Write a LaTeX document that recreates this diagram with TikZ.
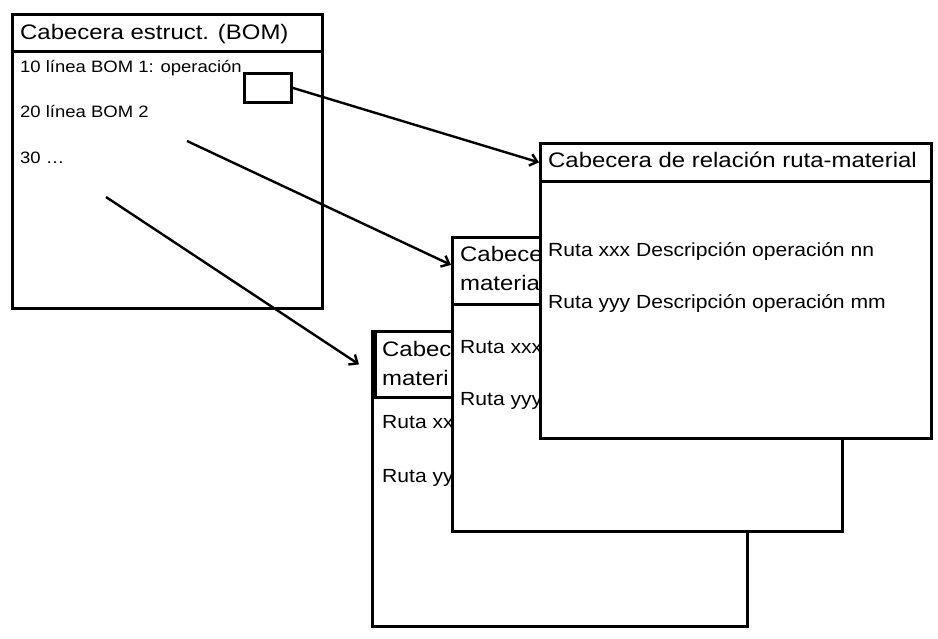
\documentclass[tikz,border=0pt]{standalone}
\usepackage{fontspec}
\setmainfont{Liberation Sans}
\newfontfamily\titlefont[FakeStretch=1.14]{Liberation Sans}
\newfontfamily\bodyfont[FakeStretch=1.12]{Liberation Sans}
\newfontfamily\bodyfontb[FakeStretch=1.11]{Liberation Sans}
\usetikzlibrary{arrows.meta}
\tikzset{
  box/.style={draw, fill=white, line width=2.8pt, inner sep=0pt, anchor=north west},
  ttl/.style={inner sep=0pt, anchor=base west, font=\titlefont\fontsize{21}{25}\selectfont},
  bomtxt/.style={inner sep=0pt, anchor=base west, font=\bodyfont\fontsize{16.5}{20}\selectfont},
  rtxt/.style={inner sep=0pt, anchor=base west, font=\bodyfontb\fontsize{19}{23}\selectfont},
  arr/.style={-{Straight Barb[length=7pt,width=12pt]}, line width=2.4pt}
}
\begin{document}
\begin{tikzpicture}[x=1pt,y=-1pt]
\useasboundingbox (0,0) rectangle (938,639);
% BOM box
\node[box, minimum width=310pt, minimum height=294pt] (b1) at (11,13) {};
\node[box, minimum width=310pt, minimum height=37pt] (h1) at (11,13) {};
\node[ttl] (t1) at (20,40) {Cabecera estruct. (BOM)};
\node[bomtxt] (l1) at (20,73) {10 línea BOM 1: operación};
\node[bomtxt] (l2) at (20,118) {20 línea BOM 2};
\node[bomtxt] (l3) at (20,164) {30 …};
\node[box, fill=none, minimum width=47pt, minimum height=29pt] (sb) at (243,72) {};
% box A (back)
\node[box, minimum width=375pt, minimum height=295pt] (bA) at (371,330) {};
\node[box, minimum width=372pt, minimum height=66pt] (hA) at (374,330) {};
\node[ttl] (tA1) at (382,356) {Cabec};
\node[ttl] (tA2) at (382,385) {materi};
\node[rtxt] (rA1) at (382,428) {Ruta xx};
\node[rtxt] (rA2) at (382,482) {Ruta yy};
% box 2 (middle)
\node[box, minimum width=390pt, minimum height=294pt] (b2) at (451,236) {};
\node[box, minimum width=390pt, minimum height=67pt] (h2) at (451,236) {};
\node[ttl] (t21) at (460,262) {Cabece};
\node[ttl] (t22) at (460,291) {materia};
\node[rtxt] (r21) at (460,354) {Ruta xxx};
\node[rtxt] (r22) at (460,406) {Ruta yyy};
% box 3 (front)
\node[box, minimum width=391pt, minimum height=295pt] (b3) at (539,142) {};
\node[box, minimum width=391pt, minimum height=38pt] (h3) at (539,142) {};
\node[ttl] (t3) at (548,168) {Cabecera de relación ruta-material};
\node[rtxt] (r31) at (548,257) {Ruta xxx Descripción operación nn};
\node[rtxt] (r32) at (548,309) {Ruta yyy Descripción operación mm};
% arrows
\coordinate (a2s) at (187,141);
\coordinate (a3s) at (106,197);
\coordinate (a3e) at ([xshift=-15pt]hA.west);
\draw[arr] (sb.east) -- (h3.west);
\draw[arr] (a2s) -- ([yshift=6pt]h2.west);
\draw[arr] (a3s) -- (a3e);
\end{tikzpicture}
\end{document}
